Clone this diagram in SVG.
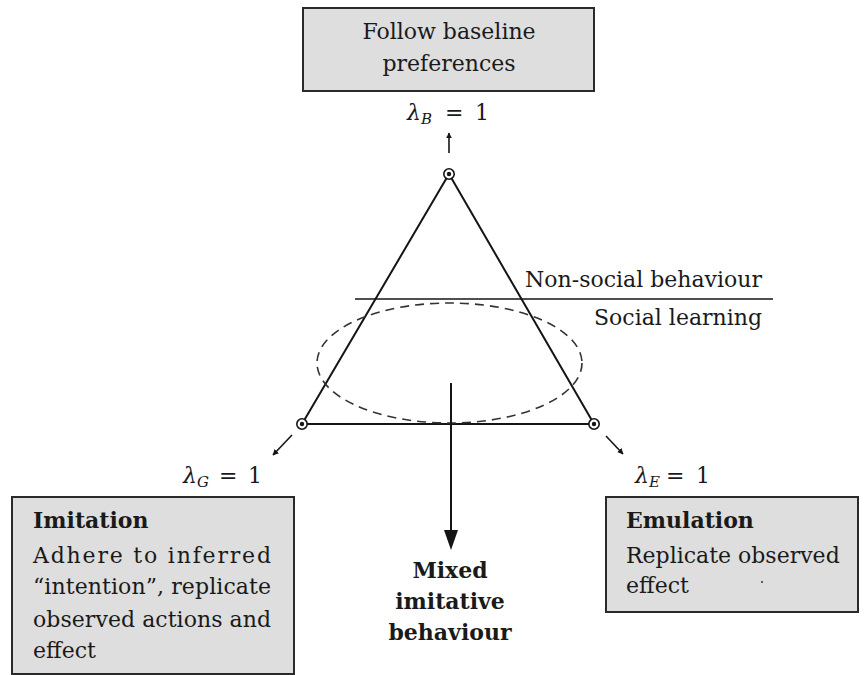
<svg xmlns="http://www.w3.org/2000/svg" width="864" height="675" viewBox="0 0 864 675">
<style>
  text { font-family: "DejaVu Serif", "Liberation Serif", serif; font-size: 22px; fill: #1a1a1a; }
  .b { font-weight: bold; }
  .box { fill: #dedede; stroke: #2a2a2a; stroke-width: 2; }
  .edge { stroke: #151515; stroke-width: 2; fill: none; }
  .thin { stroke: #151515; stroke-width: 1.6; fill: none; }
  .dash { stroke: #333; stroke-width: 1.6; fill: none; stroke-dasharray: 9 6; }
  .ring { fill: #fff; stroke: #151515; stroke-width: 1.6; }
  .dot { fill: #151515; }
  .lam { font-style: italic; }
  .sub { font-style: italic; font-size: 15px; }
</style>
<defs>
  <marker id="sm" viewBox="0 0 10 10" refX="9" refY="5" markerWidth="3.8" markerHeight="3.8" orient="auto" markerUnits="strokeWidth">
    <path d="M0,0 L10,5 L0,10 Z" fill="#151515"/>
  </marker>
</defs>

<g id="connectors">
  <polyline class="edge" points="302,424 449,174 594,424 302,424"/>
  <line class="thin" x1="355" y1="299" x2="773" y2="299"/>
  <ellipse class="dash" cx="449.5" cy="363" rx="132.5" ry="60"/>
  <line class="thin" x1="449" y1="153" x2="449" y2="133" marker-end="url(#sm)"/>
  <line class="thin" x1="292" y1="435" x2="273" y2="455" marker-end="url(#sm)"/>
  <line class="thin" x1="606" y1="436" x2="623" y2="454" marker-end="url(#sm)"/>
  <line class="edge" x1="451" y1="383" x2="451" y2="534"/>
  <polygon points="444,530 458,530 451,550" fill="#151515"/>
</g>

<g id="vertex-top"><circle class="ring" cx="449" cy="174" r="5.2"/><circle class="dot" cx="449" cy="174" r="2.2"/></g>
<g id="vertex-left"><circle class="ring" cx="302" cy="424" r="5.2"/><circle class="dot" cx="302" cy="424" r="2.2"/></g>
<g id="vertex-right"><circle class="ring" cx="594" cy="424" r="5.2"/><circle class="dot" cx="594" cy="424" r="2.2"/></g>

<g id="baseline-box">
  <rect class="box" x="303" y="8" width="291" height="83"/>
  <text x="449" y="39" text-anchor="middle">Follow baseline</text>
  <text x="449" y="71" text-anchor="middle">preferences</text>
</g>
<g id="lambda-b">
  <text x="407" y="120"><tspan class="lam">λ</tspan><tspan class="sub" dy="4">B</tspan><tspan x="445" dy="-4">=</tspan><tspan x="475">1</tspan></text>
</g>

<g id="region-labels">
  <text x="762" y="287" text-anchor="end">Non-social behaviour</text>
  <text x="762" y="325" text-anchor="end">Social learning</text>
</g>

<g id="lambda-g">
  <text x="183" y="483"><tspan class="lam">λ</tspan><tspan class="sub" dy="4">G</tspan><tspan x="219" dy="-4">=</tspan><tspan x="248">1</tspan></text>
</g>
<g id="lambda-e">
  <text x="635" y="483"><tspan class="lam">λ</tspan><tspan class="sub" dy="4">E</tspan><tspan x="666" dy="-4">=</tspan><tspan x="696">1</tspan></text>
</g>

<g id="imitation-box">
  <rect class="box" x="12" y="497" width="282" height="177"/>
  <text class="b" x="33" y="528">Imitation</text>
  <text x="33" y="563" textLength="238" lengthAdjust="spacing">Adhere to inferred</text>
  <text x="33" y="594" textLength="238" lengthAdjust="spacing">“intention”, replicate</text>
  <text x="33" y="627" textLength="238" lengthAdjust="spacing">observed actions and</text>
  <text x="33" y="658">effect</text>
</g>

<g id="emulation-box">
  <rect class="box" x="606" y="497" width="252" height="115"/>
  <text class="b" x="626" y="528">Emulation</text>
  <text x="626" y="563">Replicate observed</text>
  <text x="626" y="593">effect</text>
  <circle cx="762" cy="582" r="1" fill="#333"/>
</g>

<g id="mixed-label">
  <text class="b" x="450" y="578" text-anchor="middle">Mixed</text>
  <text class="b" x="450" y="609" text-anchor="middle">imitative</text>
  <text class="b" x="450" y="640" text-anchor="middle">behaviour</text>
</g>
</svg>
